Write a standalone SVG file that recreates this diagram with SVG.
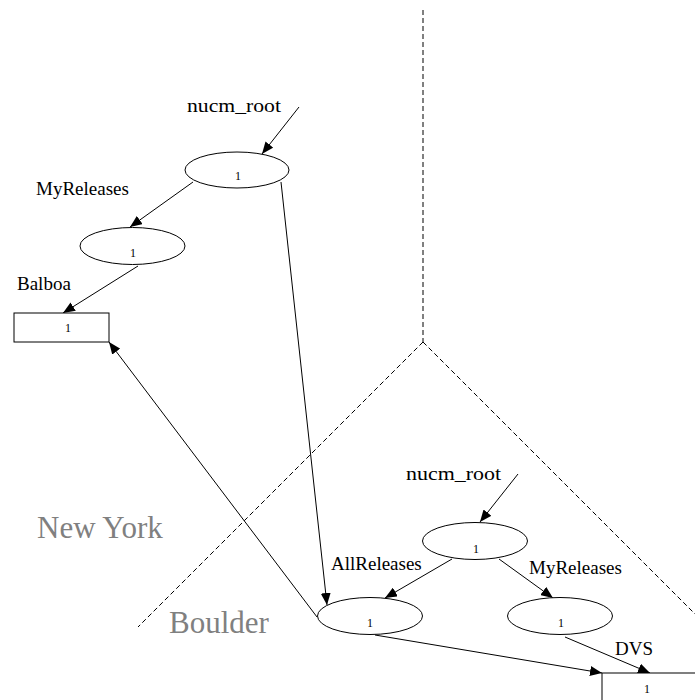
<svg xmlns="http://www.w3.org/2000/svg" width="695" height="700" viewBox="0 0 695 700">
<style>
.node{fill:#fff;stroke:#000;stroke-width:1}
.lbl{font-family:"Liberation Serif","Times New Roman",serif;font-size:19px;fill:#000}
.num{font-family:"Liberation Serif","Times New Roman",serif;font-size:12px;fill:#000;text-anchor:middle}
.region{font-family:"Liberation Serif","Times New Roman",serif;font-size:31px;fill:#808080}
.edge{stroke:#000;stroke-width:1;fill:none;marker-end:url(#arr)}
.dash{stroke:#000;stroke-width:1;fill:none;stroke-dasharray:5,3}
</style>
<defs>
<marker id="arr" markerUnits="userSpaceOnUse" markerWidth="12" markerHeight="10" viewBox="0 0 12 10" refX="12" refY="5" orient="auto">
<path d="M0,0 L12,5 L0,10 Z" fill="#000"/>
</marker>
</defs>
<rect width="695" height="700" fill="#fff"/>
<g id="boundaries">
<path class="dash" d="M423,10 L423,342"/>
<path class="dash" d="M423,342 L138,627"/>
<path class="dash" d="M423,342 L700,619"/>
</g>
<g id="regions">
<text class="region" x="37" y="538">New York</text>
<text class="region" x="169" y="633">Boulder</text>
</g>
<g id="connectors">
<line class="edge" x1="299" y1="107" x2="262" y2="154"/>
<line class="edge" x1="193" y1="182" x2="130" y2="227"/>
<line class="edge" x1="138" y1="266" x2="63" y2="313"/>
<line class="edge" x1="281" y1="182" x2="327" y2="605"/>
<line class="edge" x1="317" y1="617" x2="109" y2="342"/>
<line class="edge" x1="518" y1="474" x2="480" y2="522"/>
<line class="edge" x1="452" y1="559" x2="385" y2="598"/>
<line class="edge" x1="499" y1="559" x2="553" y2="598"/>
<line class="edge" x1="375" y1="635" x2="602" y2="673"/>
<line class="edge" x1="565" y1="637" x2="650" y2="673"/>
<text class="lbl" x="187" y="112" textLength="94" lengthAdjust="spacingAndGlyphs">nucm_root</text>
<text class="lbl" x="36" y="195">MyReleases</text>
<text class="lbl" x="17" y="290">Balboa</text>
<text class="lbl" x="406" y="480" textLength="95" lengthAdjust="spacingAndGlyphs">nucm_root</text>
<text class="lbl" x="331" y="570">AllReleases</text>
<text class="lbl" x="529" y="574">MyReleases</text>
<text class="lbl" x="615" y="655">DVS</text>
</g>
<g id="ny_root">
<ellipse class="node" cx="237" cy="170" rx="52" ry="18"/>
<text class="num" x="238" y="180">1</text>
</g>
<g id="ny_myreleases">
<ellipse class="node" cx="132.5" cy="246" rx="52.5" ry="18.5"/>
<text class="num" x="133" y="256.5">1</text>
</g>
<g id="ny_balboa">
<rect class="node" x="14" y="313" width="95" height="29"/>
<text class="num" x="68" y="332">1</text>
</g>
<g id="bo_root">
<ellipse class="node" cx="475" cy="541" rx="52.5" ry="18.5"/>
<text class="num" x="476" y="552.5">1</text>
</g>
<g id="bo_allreleases">
<ellipse class="node" cx="370" cy="616" rx="52.5" ry="18.5"/>
<text class="num" x="370" y="626.5">1</text>
</g>
<g id="bo_myreleases">
<ellipse class="node" cx="560" cy="616" rx="52.5" ry="18.5"/>
<text class="num" x="561" y="626.5">1</text>
</g>
<g id="bo_dvs">
<rect class="node" x="602" y="673" width="95" height="29"/>
<text class="num" x="647" y="693">1</text>
</g>
</svg>
